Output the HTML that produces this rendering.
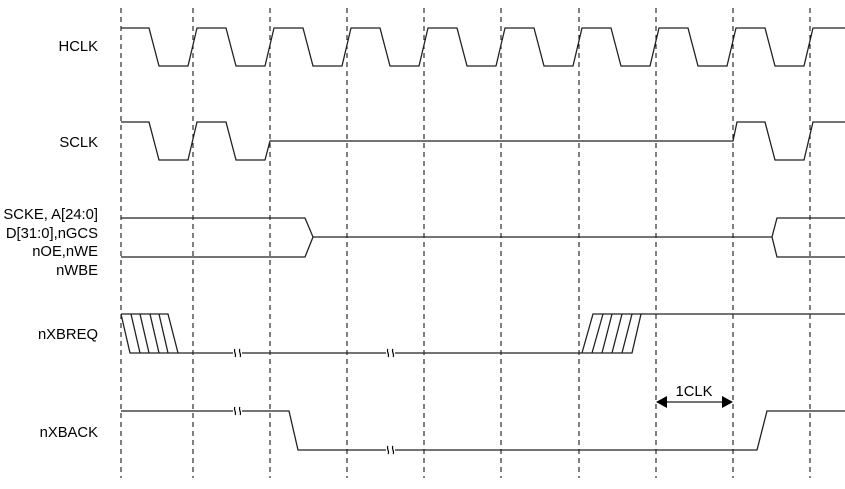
<!DOCTYPE html>
<html><head><style>body{margin:0;background:#fff}svg{display:block}</style></head><body>
<svg width="845" height="489" viewBox="0 0 845 489" xmlns="http://www.w3.org/2000/svg" font-family="Liberation Sans, sans-serif" font-size="14.8">
<g stroke="#000" stroke-width="1" stroke-dasharray="5,4">
<line x1="121" y1="8" x2="121" y2="478"/><line x1="193" y1="8" x2="193" y2="478"/><line x1="270" y1="8" x2="270" y2="478"/><line x1="347" y1="8" x2="347" y2="478"/><line x1="424" y1="8" x2="424" y2="478"/><line x1="501" y1="8" x2="501" y2="478"/><line x1="579" y1="8" x2="579" y2="478"/><line x1="656" y1="8" x2="656" y2="478"/><line x1="733" y1="8" x2="733" y2="478"/><line x1="810" y1="8" x2="810" y2="478"/>
</g>
<g fill="none" stroke="#222" stroke-width="1.3">
<polyline points="121,28 149,28 159,66 188,66 197,28 226,28 236,66 265,66 274,28 303,28 313,66 342,66 351,28 380,28 390,66 419,66 428,28 457,28 467,66 496,66 505,28 534,28 544,66 573,66 582,28 611,28 621,66 650,66 659,28 688,28 698,66 727,66 736,28 765,28 775,66 804,66 813,28 845,28"/>
<polyline points="121,122 149,122 159,160 188,160 197,122 226,122 236,160 265,160 270,141 733,141 737,122 765,122 775,160 804,160 813,122 845,122"/>
<polyline points="121,218 305,218 313,237 305,257 121,257"/>
<line x1="313" y1="237" x2="772" y2="237"/>
<polyline points="845,218 777,218 772,237 777,257 845,257"/>
<polyline points="121,314 168,314 178,353 130,353 121,314"/>
<line x1="131" y1="314" x2="140" y2="353"/><line x1="140" y1="314" x2="149" y2="353"/><line x1="150" y1="314" x2="159" y2="353"/><line x1="159" y1="314" x2="168" y2="353"/>
<line x1="178" y1="353" x2="582" y2="353"/>
<polyline points="582,353 632,353 641,314 593,314 582,353"/>
<line x1="603" y1="314" x2="592" y2="353"/><line x1="612" y1="314" x2="602" y2="353"/><line x1="622" y1="314" x2="612" y2="353"/><line x1="632" y1="314" x2="622" y2="353"/>
<line x1="641" y1="314" x2="845" y2="314"/>
<polyline points="121,411 289,411 298,450 757,450 767,411 845,411"/>
<line x1="662" y1="402" x2="727" y2="402"/>
</g>
<g fill="#fff" stroke="none"><rect x="233" y="349" width="9" height="8"/><rect x="386" y="349" width="9" height="8"/><rect x="233" y="407" width="9" height="8"/><rect x="386" y="446" width="9" height="8"/></g>
<g fill="none" stroke="#000" stroke-width="1.2">
<path d="M235,349 c-2,2 2,6 0,8 M240,349 c-2,2 2,6 0,8"/><path d="M388,349 c-2,2 2,6 0,8 M393,349 c-2,2 2,6 0,8"/>
<path d="M235,407 c-2,2 2,6 0,8 M240,407 c-2,2 2,6 0,8"/><path d="M388,446 c-2,2 2,6 0,8 M393,446 c-2,2 2,6 0,8"/>
</g>
<polygon points="656,402 667,396 667,408" fill="#000"/><polygon points="733,402 722,396 722,408" fill="#000"/>
<g fill="#000" text-anchor="end">
<text x="98" y="51">HCLK</text><text x="98" y="147">SCLK</text>
<text x="98" y="219">SCKE, A[24:0]</text><text x="98" y="238">D[31:0],nGCS</text><text x="98" y="256">nOE,nWE</text><text x="98" y="275">nWBE</text>
<text x="98" y="339">nXBREQ</text><text x="98" y="437">nXBACK</text>
</g>
<text x="694" y="396" text-anchor="middle">1CLK</text>
</svg>
</body></html>
